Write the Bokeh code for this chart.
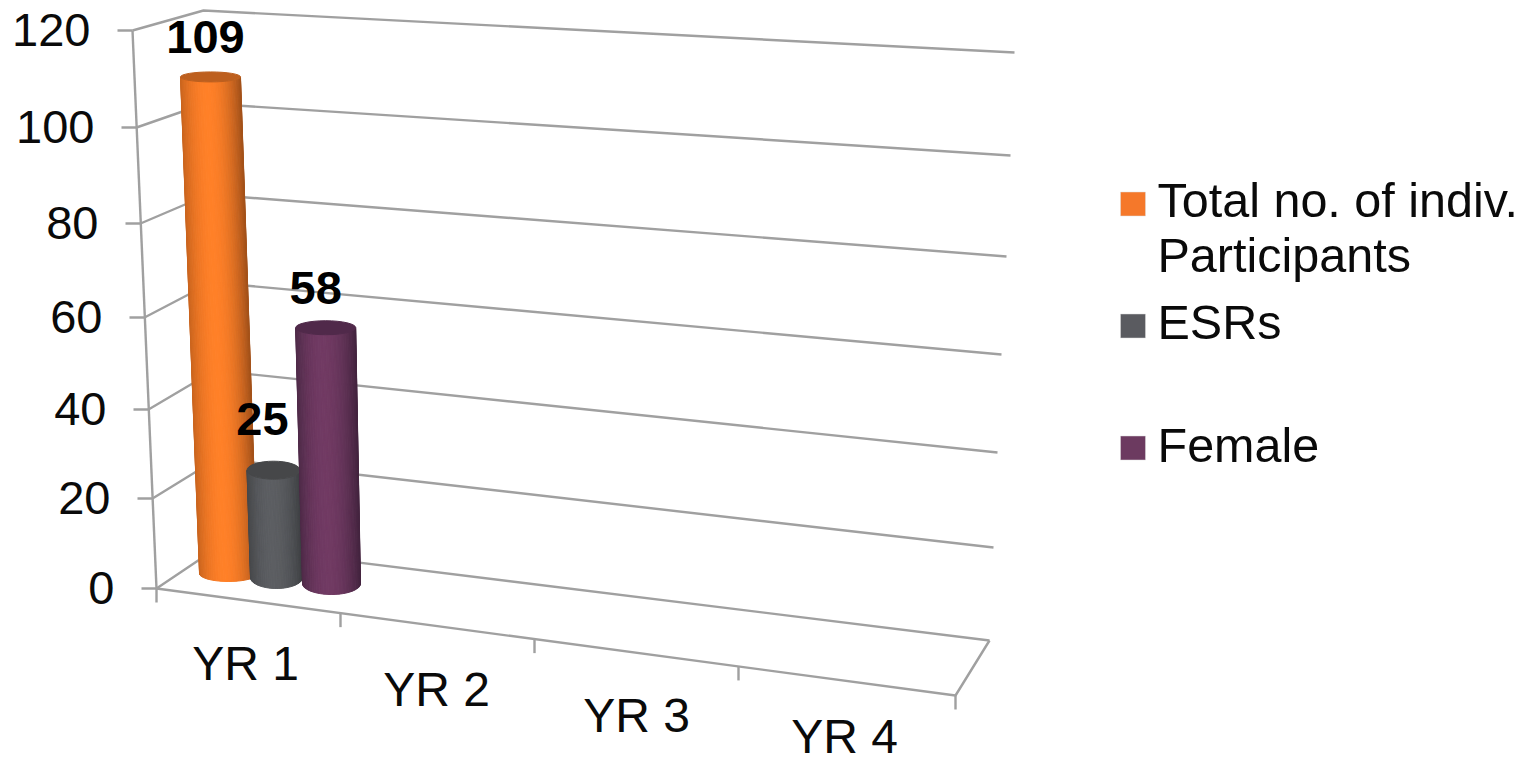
import numpy as np
from bokeh.plotting import figure
from bokeh.models import Range1d
from bokeh.core.properties import value
from bokeh.embed import file_html
from bokeh.resources import INLINE

# --- data ---
categories = ["YR 1", "YR 2", "YR 3", "YR 4"]
series_names = ["Total no. of indiv.\nParticipants", "ESRs", "Female"]
yr1_values = [109, 25, 58]
y_ticks = [0, 20, 40, 60, 80, 100, 120]
colors_mid = ["#FF8028", "#5C5E62", "#713A63"]
colors_left = ["#C9641E", "#46484B", "#4E2A48"]
colors_right = ["#A4521A", "#3E4043", "#44243F"]
colors_top = ["#BD5F1E", "#464749", "#50294A"]
colors_legend = ["#F5782A", "#5A5B60", "#6C3A60"]

# --- projection of the 3D chart box into pixels ---
front_x = [156, 152, 148, 144, 140, 136, 132]
front_y = [588, 498, 409, 317, 223, 127, 30]
back_x = [220, 217, 214, 211, 208, 205, 203]
back_y = [545, 458, 370, 282, 194, 103, 10]
right_x = [989, 993, 997, 1001, 1006, 1010, 1014]
right_y = [640, 547, 452, 354, 256, 155, 52]
floor_front = ([156, 955], [588, 695])
cat_edges = [0, 1, 2, 3, 4]
cat_tick_x = [156, 340, 534, 738, 955]
BASE_SHIFT = 18.5  # middle-anchored text: distance from anchor to text baseline


def axis_y(v):
    return np.interp(v, y_ticks, front_y)


def floor_y(x):
    return np.interp(x, floor_front[0], floor_front[1])


p = figure(width=1529, height=764, output_backend="svg", toolbar_location=None,
           x_range=Range1d(0, 1529), y_range=Range1d(764, 0),
           min_border=0, outline_line_color=None, background_fill_color="white")
p.axis.visible = False
p.grid.visible = False

GRID = "#A0A0A0"
FONT = value("Liberation Sans")

# walls: gridlines, axis line, ticks
xs, ys = [], []
for i, t in enumerate(y_ticks):
    xs.append([front_x[i], back_x[i], right_x[i]])
    ys.append([front_y[i], back_y[i], right_y[i]])
    xs.append([front_x[i] - 15, front_x[i]])
    ys.append([front_y[i], front_y[i]])
xs.append([front_x[-1], front_x[0]])
ys.append([front_y[-1], front_y[0]])
xs.append([front_x[0], floor_front[0][1], right_x[0]])
ys.append([front_y[0], floor_front[1][1], right_y[0]])
for c in cat_edges:
    x = cat_tick_x[c]
    xs.append([x, x])
    ys.append([floor_y(x), floor_y(x) + 14])
p.multi_line(xs, ys, line_color=GRID, line_width=2.4)

# y tick labels
p.text([front_x[i] - 42 for i in range(len(y_ticks))],
       [front_y[i] - 1 for i in range(len(y_ticks))],
       text=[str(t) for t in y_ticks], text_font=FONT, text_font_size="47px",
       text_align="right", text_baseline="middle", text_color="#0A0A0A")

# category labels
cat_cx = [245, 436, 636, 844]
cat_base = [681, 707, 733, 754]
p.text(cat_cx, [b - BASE_SHIFT for b in cat_base], text=categories, text_font=FONT,
       text_font_size="48px", text_align="center", text_baseline="middle",
       text_color="#0A0A0A")

# cylinders: base centre, half widths, px scale factor, x lean per unit, ellipse radii
geom = [
    dict(bx=228, by=573, rb=29, rt=30, k=0.984, lean=0.165, ryb=8, ryt=5, lx=-5, ly=-21),
    dict(bx=276, by=577, rb=26, rt=26.5, k=0.956, lean=0.12, ryb=11, ryt=9, lx=-11, ly=-33),
    dict(bx=331, by=583, rb=29, rt=30, k=0.977, lean=0.10, ryb=11, ryt=7, lx=-10, ly=-21),
]


def hex2rgb(h):
    return np.array([int(h[j:j + 2], 16) for j in (1, 3, 5)], float)


def rgb2hex(c):
    return "#%02x%02x%02x" % tuple(int(round(v)) for v in c)


N = 36
for s, v in enumerate(yr1_values):
    g = geom[s]
    h = (front_y[0] - axis_y(v)) * g["k"]
    ty = g["by"] - h
    tx = g["bx"] - g["lean"] * v
    th = np.linspace(np.pi, 0, N + 1)
    sx, sy, fc = [], [], []
    mid, left, right = hex2rgb(colors_mid[s]), hex2rgb(colors_left[s]), hex2rgb(colors_right[s])
    for j in range(N):
        a, b = th[j], th[j + 1]
        xa_t, xb_t = tx + g["rt"] * np.cos(a), tx + g["rt"] * np.cos(b)
        xa_b, xb_b = g["bx"] + g["rb"] * np.cos(a), g["bx"] + g["rb"] * np.cos(b)
        ya_t, yb_t = ty + g["ryt"] * np.sin(a), ty + g["ryt"] * np.sin(b)
        ya_b, yb_b = g["by"] + g["ryb"] * np.sin(a), g["by"] + g["ryb"] * np.sin(b)
        sx.append([xa_t, xb_t, xb_b, xa_b])
        sy.append([ya_t, yb_t, yb_b, ya_b])
        t = np.cos((a + b) / 2)
        u = t + 0.1
        if u < 0:
            f = (-u / 0.9) ** 2
            fc.append(rgb2hex(mid + (left - mid) * f))
        else:
            f = (u / 1.1) ** 2
            fc.append(rgb2hex(mid + (right - mid) * f))
    p.patches(sx, sy, fill_color=fc, line_color=fc, line_width=1)
    p.ellipse([tx], [ty], width=[2 * g["rt"]], height=[2 * g["ryt"]],
              fill_color=colors_top[s], line_color=colors_top[s], line_width=1)

# data labels
for s, v in enumerate(yr1_values):
    g = geom[s]
    h = (front_y[0] - axis_y(v)) * g["k"]
    p.text([g["bx"] - g["lean"] * v + g["lx"]], [g["by"] - h + g["ly"] - BASE_SHIFT], text=[str(v)],
           text_font=FONT, text_font_style="bold", text_font_size="47px",
           text_align="center", text_baseline="middle", text_color="#000000")

# legend
leg_swatch_y = [203.5, 325.5, 447.5]
leg_lines = [(series_names[0].split("\n")[0], 218), (series_names[0].split("\n")[1], 273),
             (series_names[1], 340), (series_names[2], 463)]
p.rect([1132.5] * 3, leg_swatch_y, width=25, height=24, fill_color=colors_legend,
       line_color="#DDDDDD", line_width=0.5)
p.text([1157] * 4, [b - BASE_SHIFT for _, b in leg_lines], text=[t for t, _ in leg_lines],
       text_font=FONT, text_font_size="48.5px", text_align="left",
       text_baseline="middle", text_color="#0A0A0A")

open("out.html", "w").write(file_html(p, INLINE))
